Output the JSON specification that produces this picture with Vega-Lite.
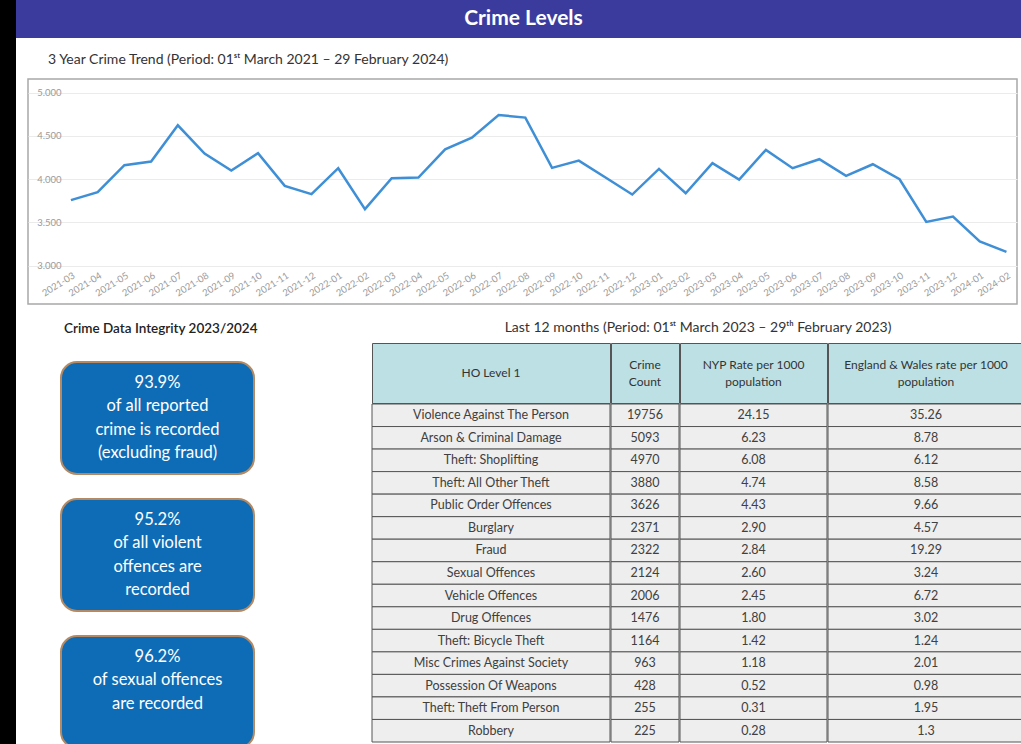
{
  "$schema": "https://vega.github.io/schema/vega-lite/v6.json",
  "padding": 0,
  "background": "white",
  "config": {"view": {"stroke": null}, "font": "Lato"},
  "datasets": {
    "trend": [
      {"month": "2021-03", "crimes": 3758}, {"month": "2021-04", "crimes": 3850}, {"month": "2021-05", "crimes": 4162},
      {"month": "2021-06", "crimes": 4204}, {"month": "2021-07", "crimes": 4623}, {"month": "2021-08", "crimes": 4296},
      {"month": "2021-09", "crimes": 4100}, {"month": "2021-10", "crimes": 4300}, {"month": "2021-11", "crimes": 3923},
      {"month": "2021-12", "crimes": 3827}, {"month": "2022-01", "crimes": 4127}, {"month": "2022-02", "crimes": 3654},
      {"month": "2022-03", "crimes": 4012}, {"month": "2022-04", "crimes": 4019}, {"month": "2022-05", "crimes": 4346},
      {"month": "2022-06", "crimes": 4481}, {"month": "2022-07", "crimes": 4742}, {"month": "2022-08", "crimes": 4712},
      {"month": "2022-09", "crimes": 4131}, {"month": "2022-10", "crimes": 4215}, {"month": "2022-11", "crimes": 4019},
      {"month": "2022-12", "crimes": 3823}, {"month": "2023-01", "crimes": 4119}, {"month": "2023-02", "crimes": 3838},
      {"month": "2023-03", "crimes": 4185}, {"month": "2023-04", "crimes": 3996}, {"month": "2023-05", "crimes": 4339},
      {"month": "2023-06", "crimes": 4127}, {"month": "2023-07", "crimes": 4231}, {"month": "2023-08", "crimes": 4038},
      {"month": "2023-09", "crimes": 4173}, {"month": "2023-10", "crimes": 4000}, {"month": "2023-11", "crimes": 3507},
      {"month": "2023-12", "crimes": 3569}, {"month": "2024-01", "crimes": 3280}, {"month": "2024-02", "crimes": 3161}
    ],
    "offences": [
      {"offence": "Violence Against The Person", "count": 19756, "nyp": "24.15", "ew": "35.26"},
      {"offence": "Arson & Criminal Damage", "count": 5093, "nyp": "6.23", "ew": "8.78"},
      {"offence": "Theft: Shoplifting", "count": 4970, "nyp": "6.08", "ew": "6.12"},
      {"offence": "Theft: All Other Theft", "count": 3880, "nyp": "4.74", "ew": "8.58"},
      {"offence": "Public Order Offences", "count": 3626, "nyp": "4.43", "ew": "9.66"},
      {"offence": "Burglary", "count": 2371, "nyp": "2.90", "ew": "4.57"},
      {"offence": "Fraud", "count": 2322, "nyp": "2.84", "ew": "19.29"},
      {"offence": "Sexual Offences", "count": 2124, "nyp": "2.60", "ew": "3.24"},
      {"offence": "Vehicle Offences", "count": 2006, "nyp": "2.45", "ew": "6.72"},
      {"offence": "Drug Offences", "count": 1476, "nyp": "1.80", "ew": "3.02"},
      {"offence": "Theft: Bicycle Theft", "count": 1164, "nyp": "1.42", "ew": "1.24"},
      {"offence": "Misc Crimes Against Society", "count": 963, "nyp": "1.18", "ew": "2.01"},
      {"offence": "Possession Of Weapons", "count": 428, "nyp": "0.52", "ew": "0.98"},
      {"offence": "Theft: Theft From Person", "count": 255, "nyp": "0.31", "ew": "1.95"},
      {"offence": "Robbery", "count": 225, "nyp": "0.28", "ew": "1.3"}
    ],
    "integrity": [
      {"id": 1, "text": "93.9%\nof all reported\ncrime is recorded\n(excluding fraud)"},
      {"id": 2, "text": "95.2%\nof all violent\noffences are\nrecorded"},
      {"id": 3, "text": "96.2%\nof sexual offences\nare recorded\n"}
    ]
  },
  "spacing": 0,
  "hconcat": [
    {"width": 16, "height": 744, "data": {"values": [{"t": ""}]}, "view": {"fill": "black", "stroke": null},
     "mark": {"type": "text"}, "encoding": {"text": {"field": "t"}}},
    {
      "spacing": 0,
      "vconcat": [
        {"width": 1005, "height": 38, "data": {"values": [{"t": "Crime Levels"}]}, "view": {"fill": "#3b3b9d", "stroke": null},
         "mark": {"type": "text", "color": "white", "fontSize": 21, "fontWeight": "bold", "font": "Lato", "dx": 5},
         "encoding": {"text": {"field": "t"}}},
        {
          "spacing": 10,
          "hconcat": [
            {"width": 1, "height": 1, "data": {"values": [{"t": ""}]}, "mark": {"type": "text"}, "encoding": {"text": {"field": "t"}}},
            {
              "spacing": 15,
              "vconcat": [
                {
                  "width": 989, "height": 225,
                  "title": {"text": ["", "3 Year Crime Trend (Period: 01ˢᵗ March 2021 – 29 February 2024)"], "anchor": "start", "dx": 20, "offset": 12, "lineHeight": 14, "fontSize": 14, "font": "Lato", "fontWeight": "normal", "color": "#333333"},
                  "data": {"name": "trend"},
                  "view": {"stroke": "#a8a8a8", "strokeWidth": 1.5, "fill": "white"},
                  "mark": {"type": "line", "color": "#3f8fd6", "strokeWidth": 2.5},
                  "encoding": {
                    "x": {"field": "month", "type": "ordinal", "scale": {"type": "point", "padding": 1.2514, "align": 0.803},
                          "axis": {"title": null, "offset": -36, "labelAngle": -32, "labelFontSize": 9.5, "labelColor": "#9a9a9a", "labelFont": "Lato", "domain": false, "ticks": false, "labelPadding": 2, "grid": false}},
                    "y": {"field": "crimes", "type": "quantitative", "scale": {"domain": [2558, 5158], "nice": false, "zero": false},
                          "axis": {"title": null, "values": [3000, 3500, 4000, 4500, 5000], "offset": -36, "domain": false, "ticks": false, "labelPadding": 3,
                                   "labelExpr": "replace(format(datum.value, ',.0f'), ',', '.')", "labelFontSize": 9.5, "labelColor": "#9a9a9a", "labelFont": "Lato", "grid": true, "gridColor": "#ebebeb"}}
                  }
                },
                {
                  "spacing": 43,
                  "hconcat": [
                    {
                      "width": 300, "height": 405,
                      "title": {"text": "Crime Data Integrity 2023/2024", "anchor": "start", "dx": 36, "offset": 8, "fontSize": 13.5, "font": "Lato", "fontWeight": 600, "color": "#222222"},
                      "data": {"name": "integrity"},
                      "layer": [
                        {"mark": {"type": "rect", "fill": "#0e6cb6", "stroke": "#b58a62", "strokeWidth": 2, "cornerRadius": 16},
                         "encoding": {
                           "x": {"datum": 0, "type": "quantitative", "scale": {"domain": [-0.171, 1.3834], "nice": false, "zero": false}, "axis": null},
                           "x2": {"datum": 1},
                           "y": {"field": "id", "type": "ordinal", "axis": null, "scale": {"paddingInner": 0.1825, "paddingOuter": 0.0693, "align": 1}}}},
                        {"mark": {"type": "text", "color": "white", "fontSize": 16.5, "font": "Lato", "lineBreak": "\n", "lineHeight": 23.5, "dy": -35},
                         "encoding": {
                           "x": {"datum": 0.5, "type": "quantitative"},
                           "y": {"field": "id", "type": "ordinal"},
                           "text": {"field": "text"}}}
                      ]
                    },
                    {
                      "title": {"text": "Last 12 months (Period: 01ˢᵗ March 2023 – 29ᵗʰ February 2023)", "anchor": "middle", "offset": 8, "fontSize": 14, "font": "Lato", "fontWeight": "normal", "color": "#333333"},
                      "spacing": -1,
                      "vconcat": [
                        {
                          "spacing": -1,
                          "hconcat": [
                            {"width": 238, "height": 60, "data": {"values": [{"label": "HO Level 1"}]}, "view": {"fill": "#bde0e5", "stroke": "#555555", "strokeWidth": 1},
                             "mark": {"type": "text", "font": "Lato", "fontSize": 12, "color": "#333333", "lineBreak": "\n", "lineHeight": 17}, "encoding": {"text": {"field": "label"}}},
                            {"width": 68, "height": 60, "data": {"values": [{"label": "Crime\nCount"}]}, "view": {"fill": "#bde0e5", "stroke": "#555555", "strokeWidth": 1},
                             "mark": {"type": "text", "font": "Lato", "fontSize": 12, "color": "#333333", "lineBreak": "\n", "lineHeight": 17, "dy": -8.5}, "encoding": {"text": {"field": "label"}}},
                            {"width": 147, "height": 60, "data": {"values": [{"label": "NYP Rate per 1000\npopulation"}]}, "view": {"fill": "#bde0e5", "stroke": "#555555", "strokeWidth": 1},
                             "mark": {"type": "text", "font": "Lato", "fontSize": 12, "color": "#333333", "lineBreak": "\n", "lineHeight": 17, "dy": -8.5}, "encoding": {"text": {"field": "label"}}},
                            {"width": 196, "height": 60, "data": {"values": [{"label": "England & Wales rate per 1000\npopulation"}]}, "view": {"fill": "#bde0e5", "stroke": "#555555", "strokeWidth": 1},
                             "mark": {"type": "text", "font": "Lato", "fontSize": 12, "color": "#333333", "lineBreak": "\n", "lineHeight": 17, "dy": -8.5}, "encoding": {"text": {"field": "label"}}}
                          ]
                        },
                        {
                          "spacing": -1,
                          "hconcat": [
                            {"width": 238, "height": 338, "data": {"name": "offences"},
                             "layer": [
                               {"mark": {"type": "rect", "fill": "#eeeeee", "stroke": "#555555", "strokeWidth": 1},
                                "encoding": {"y": {"field": "offence", "type": "nominal", "sort": {"field": "count", "op": "max", "order": "descending"}, "axis": null, "scale": {"paddingInner": 0, "paddingOuter": 0}}}},
                               {"mark": {"type": "text", "font": "Lato", "fontSize": 12.5, "color": "#404040"},
                                "encoding": {"y": {"field": "offence", "type": "nominal", "sort": {"field": "count", "op": "max", "order": "descending"}}, "text": {"field": "offence", "type": "nominal"}}}
                             ]},
                            {"width": 68, "height": 338, "data": {"name": "offences"},
                             "layer": [
                               {"mark": {"type": "rect", "fill": "#eeeeee", "stroke": "#555555", "strokeWidth": 1},
                                "encoding": {"y": {"field": "offence", "type": "nominal", "sort": {"field": "count", "op": "max", "order": "descending"}, "axis": null, "scale": {"paddingInner": 0, "paddingOuter": 0}}}},
                               {"mark": {"type": "text", "font": "Lato", "fontSize": 12.5, "color": "#404040"},
                                "encoding": {"y": {"field": "offence", "type": "nominal", "sort": {"field": "count", "op": "max", "order": "descending"}}, "text": {"field": "count", "type": "nominal"}}}
                             ]},
                            {"width": 147, "height": 338, "data": {"name": "offences"},
                             "layer": [
                               {"mark": {"type": "rect", "fill": "#eeeeee", "stroke": "#555555", "strokeWidth": 1},
                                "encoding": {"y": {"field": "offence", "type": "nominal", "sort": {"field": "count", "op": "max", "order": "descending"}, "axis": null, "scale": {"paddingInner": 0, "paddingOuter": 0}}}},
                               {"mark": {"type": "text", "font": "Lato", "fontSize": 12.5, "color": "#404040"},
                                "encoding": {"y": {"field": "offence", "type": "nominal", "sort": {"field": "count", "op": "max", "order": "descending"}}, "text": {"field": "nyp", "type": "nominal"}}}
                             ]},
                            {"width": 196, "height": 338, "data": {"name": "offences"},
                             "layer": [
                               {"mark": {"type": "rect", "fill": "#eeeeee", "stroke": "#555555", "strokeWidth": 1},
                                "encoding": {"y": {"field": "offence", "type": "nominal", "sort": {"field": "count", "op": "max", "order": "descending"}, "axis": null, "scale": {"paddingInner": 0, "paddingOuter": 0}}}},
                               {"mark": {"type": "text", "font": "Lato", "fontSize": 12.5, "color": "#404040"},
                                "encoding": {"y": {"field": "offence", "type": "nominal", "sort": {"field": "count", "op": "max", "order": "descending"}}, "text": {"field": "ew", "type": "nominal"}}}
                             ]}
                          ]
                        }
                      ]
                    }
                  ]
                }
              ]
            }
          ]
        }
      ]
    }
  ]
}
